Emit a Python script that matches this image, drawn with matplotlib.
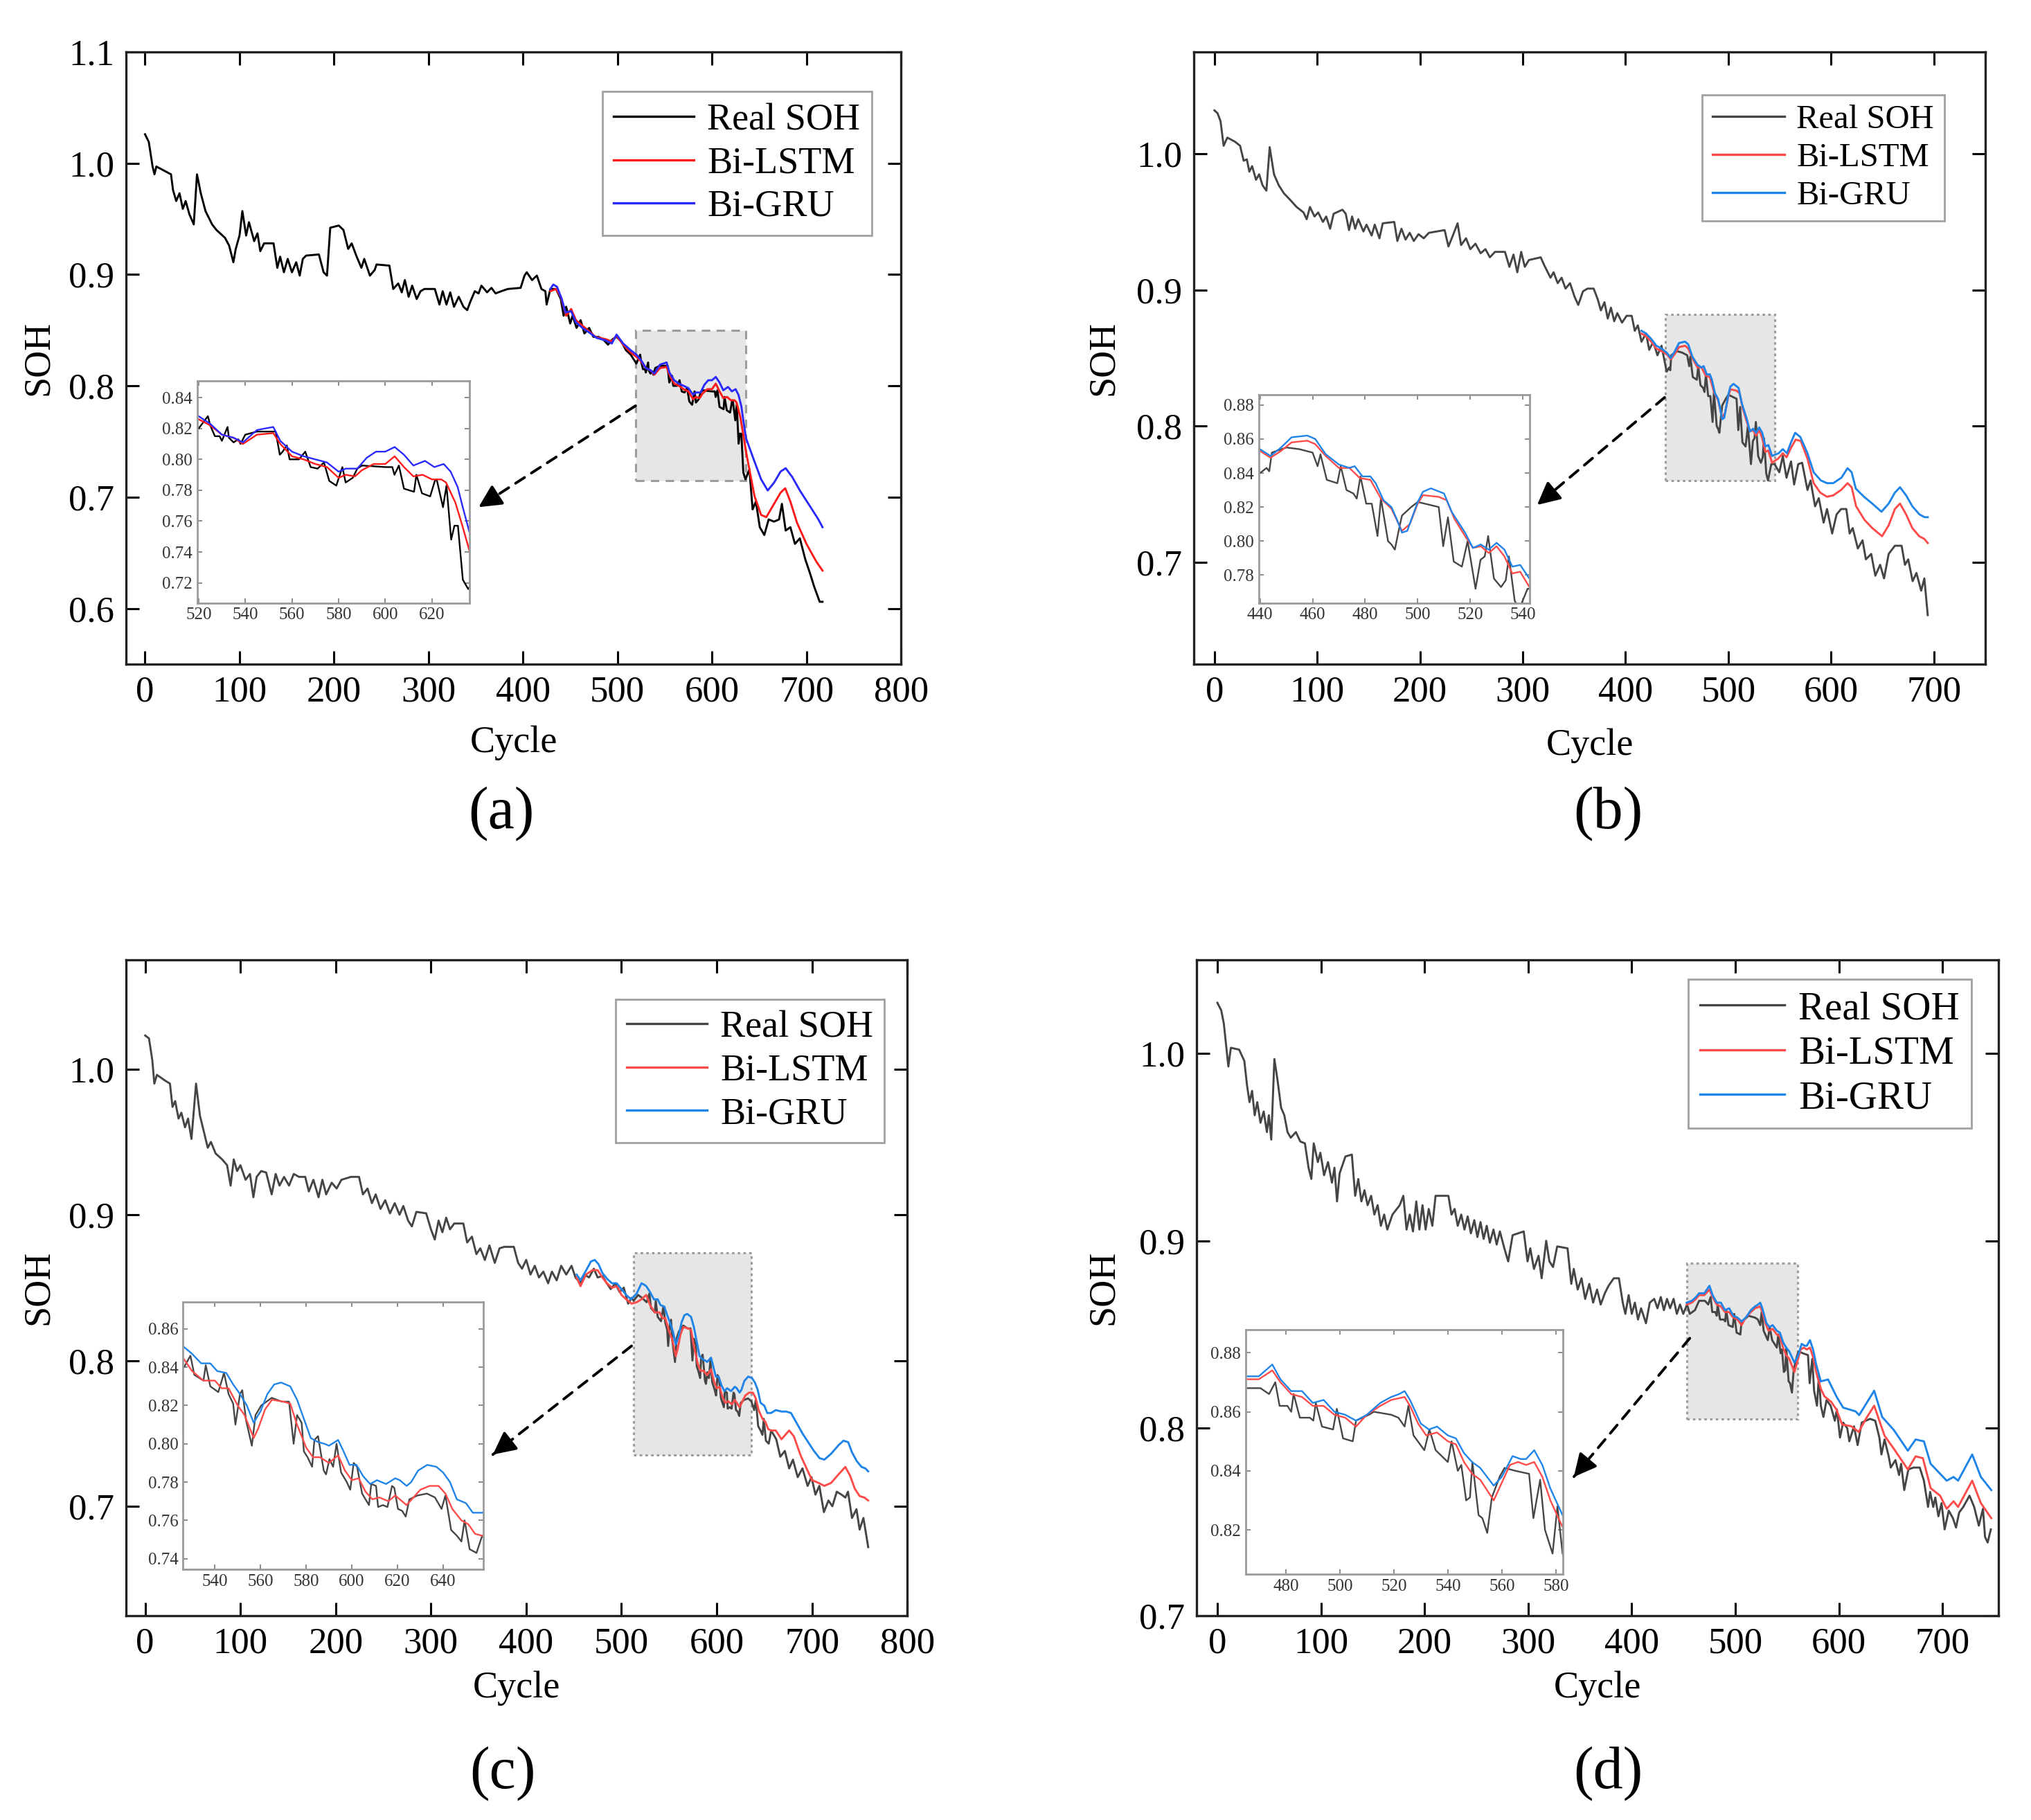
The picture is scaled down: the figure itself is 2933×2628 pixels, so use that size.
import matplotlib
matplotlib.use('Agg')
import matplotlib.pyplot as plt
from matplotlib.patches import Rectangle

plt.rcParams['font.family'] = ['Liberation Serif', 'DejaVu Serif']

# ---------------- panel (a) ----------------
a_real_x = [0, 4, 8, 10, 12, 23, 27.5, 29.6, 33, 36.5,
            40, 43, 47, 51.6, 55, 59, 64, 71, 75.6, 84.6,
            89, 93.5, 96, 100, 103, 107, 110, 115.5, 119, 122,
            126, 136, 140, 143, 147, 151, 155.5, 160, 163.7, 167,
            170.5, 184, 189, 192.6, 196, 205, 210, 215, 218.7, 224,
            229, 232, 238, 243, 245, 258.6, 262.7, 268, 271.7, 275,
            279, 282.7, 287.5, 291.6, 295.7, 306.7, 311.6, 315, 319, 323,
            327, 332, 337, 341, 344, 349, 353, 356, 362, 366.6,
            371, 377, 384, 397.5, 401.6, 404, 409.6, 414.7, 419.5, 423.7,
            425, 429, 435, 440, 443, 445.7, 450, 452.5, 456.7, 461,
            465, 470, 474.5, 480, 485.6, 490, 495, 499, 504, 509,
            514, 520, 524, 525, 527, 529, 530, 532.4, 533, 535,
            537, 538, 540, 545, 553, 554.8, 556, 557.8, 559, 563,
            565.7, 568, 571, 573.7, 576, 579, 581.6, 583, 586, 588,
            590, 600, 603, 603.9, 605.8, 608, 612.3, 613.3, 615.7, 619.2,
            621.2, 622, 624.7, 626.2, 628.2, 629.6, 631.1, 633.2, 635.5, 639.6,
            643, 646.5, 650.6, 655.4, 660, 665.7, 671, 674, 678, 683,
            687.8, 693, 698.8, 703.6, 708, 714, 717]
a_real_y = [1.026, 1.019, 0.997, 0.990, 0.997, 0.992, 0.990, 0.976, 0.966, 0.973,
            0.959, 0.966, 0.954, 0.945, 0.990, 0.973, 0.957, 0.945, 0.940, 0.933,
            0.926, 0.911, 0.923, 0.935, 0.957, 0.935, 0.947, 0.930, 0.937, 0.921,
            0.928, 0.928, 0.906, 0.916, 0.902, 0.914, 0.902, 0.911, 0.899, 0.914,
            0.917, 0.918, 0.902, 0.899, 0.942, 0.944, 0.940, 0.923, 0.928, 0.916,
            0.906, 0.914, 0.899, 0.904, 0.909, 0.908, 0.887, 0.892, 0.884, 0.895,
            0.880, 0.890, 0.878, 0.885, 0.887, 0.887, 0.873, 0.885, 0.873, 0.884,
            0.871, 0.880, 0.871, 0.868, 0.875, 0.885, 0.883, 0.890, 0.884, 0.888,
            0.883, 0.885, 0.887, 0.888, 0.899, 0.902, 0.895, 0.899, 0.887, 0.885,
            0.873, 0.887, 0.887, 0.878, 0.863, 0.871, 0.856, 0.863, 0.852, 0.859,
            0.847, 0.852, 0.844, 0.844, 0.841, 0.837, 0.842, 0.844, 0.840, 0.832,
            0.828, 0.820, 0.828, 0.822, 0.815, 0.815, 0.812, 0.821, 0.814, 0.811,
            0.813, 0.810, 0.816, 0.818, 0.818, 0.803, 0.805, 0.809, 0.800, 0.800,
            0.805, 0.795, 0.794, 0.798, 0.786, 0.783, 0.795, 0.785, 0.788, 0.794,
            0.796, 0.795, 0.795, 0.790, 0.796, 0.781, 0.779, 0.790, 0.778, 0.776,
            0.786, 0.787, 0.769, 0.783, 0.748, 0.757, 0.757, 0.722, 0.716, 0.725,
            0.689, 0.696, 0.673, 0.666, 0.680, 0.678, 0.680, 0.694, 0.670, 0.673,
            0.658, 0.663, 0.644, 0.632, 0.620, 0.606, 0.606]
a_lstm_x = [429, 435, 440, 445.7, 451, 456, 463, 470, 476.6, 487,
            494, 499, 506, 514, 520, 525, 530, 535, 539, 545,
            552, 555, 560, 565, 570, 575, 580, 583, 587, 590,
            595, 600, 604, 608, 612, 616, 620, 624, 626, 630,
            633, 636, 645, 652, 657.5, 665.7, 672.6, 677.5, 683, 690,
            700, 710.5, 717]
a_lstm_y = [0.885, 0.887, 0.880, 0.863, 0.869, 0.859, 0.854, 0.849, 0.844, 0.842,
            0.840, 0.845, 0.837, 0.830, 0.826, 0.822, 0.816, 0.814, 0.810, 0.816,
            0.817, 0.810, 0.802, 0.800, 0.797, 0.795, 0.788, 0.790, 0.789, 0.793,
            0.797, 0.797, 0.802, 0.795, 0.789, 0.790, 0.787, 0.787, 0.785, 0.772,
            0.757, 0.741, 0.701, 0.684, 0.682, 0.694, 0.704, 0.708, 0.696, 0.677,
            0.658, 0.642, 0.634]
a_gru_x = [429, 432, 436, 441, 445, 451, 456, 463, 470, 478,
           487, 494, 499, 506, 514, 520, 525, 530, 535, 539,
           545, 552, 555, 560, 565, 570, 575, 580, 583, 588,
           592, 596, 600, 604, 608, 612, 617, 621, 625, 628,
           631, 633, 636, 643.7, 652, 659, 665.7, 672.6, 678, 685,
           693, 703.6, 712.6, 717]
a_gru_y = [0.887, 0.891, 0.889, 0.878, 0.866, 0.867, 0.857, 0.852, 0.848, 0.843,
           0.841, 0.838, 0.846, 0.838, 0.832, 0.828, 0.823, 0.816, 0.814, 0.811,
           0.819, 0.821, 0.812, 0.805, 0.802, 0.800, 0.798, 0.792, 0.794, 0.794,
           0.801, 0.805, 0.805, 0.808, 0.803, 0.796, 0.799, 0.795, 0.797, 0.792,
           0.782, 0.770, 0.753, 0.735, 0.716, 0.706, 0.713, 0.723, 0.726, 0.718,
           0.706, 0.692, 0.680, 0.673]

# ---------------- panel (b) ----------------
b_real_x = [0, 3, 6, 9, 12.6, 20, 25, 28.5, 31.6, 34,
            36.7, 40.5, 43.6, 46.8, 50.6, 53.8, 58, 62.6, 67.7, 74,
            80, 86.7, 89.8, 93, 97.4, 101, 105.6, 108.8, 112.6, 116,
            124.6, 127.8, 131, 134, 137, 140, 145, 148, 153, 156,
            160.6, 163.8, 175, 178, 182, 186, 190, 194, 198.6, 203.7,
            208.7, 224, 227.7, 232, 236.6, 240, 244.8, 249, 254, 259,
            263.7, 268, 273, 282.7, 287, 291, 294.7, 298.5, 302, 306,
            317.5, 321, 327, 330, 334, 337.8, 341.6, 346, 350.4, 354,
            358.6, 363, 369, 373, 376, 379.5, 382.7, 385.8, 389, 392,
            396.6, 401, 406, 409, 412, 415.5, 420, 423, 427, 431,
            435, 440, 442.5, 443.5, 444.5, 450, 455, 460, 461.9, 463,
            465.4, 469.4, 470.7, 472.9, 475.5, 476.8, 478.2, 480.4, 482.5, 484.7,
            486, 488.7, 490, 491.3, 492.6, 494, 497.5, 500, 508, 509.7,
            511.5, 513.7, 516.8, 519, 522, 523.9, 525.5, 526.8, 529, 531.7,
            533.5, 534.7, 536.9, 538.6, 541.8, 545, 549.6, 553, 556.6, 561,
            564, 568, 571.8, 577, 580, 584.4, 588, 592.7, 596, 601,
            605.3, 609.7, 614.8, 618, 621, 626, 630.6, 633.8, 639, 643,
            647.7, 651.5, 656, 662, 668.6, 671.8, 675, 679.3, 683, 687.6,
            690.7, 694]
b_real_y = [1.032, 1.030, 1.024, 1.006, 1.012, 1.009, 1.006, 0.995, 0.996, 0.987,
            0.991, 0.981, 0.985, 0.977, 0.973, 1.005, 0.985, 0.977, 0.971, 0.966,
            0.961, 0.957, 0.952, 0.961, 0.954, 0.957, 0.950, 0.954, 0.945, 0.956,
            0.959, 0.956, 0.944, 0.954, 0.945, 0.952, 0.943, 0.948, 0.940, 0.948,
            0.938, 0.949, 0.950, 0.936, 0.945, 0.937, 0.942, 0.936, 0.941, 0.938,
            0.942, 0.944, 0.932, 0.940, 0.949, 0.933, 0.938, 0.930, 0.934, 0.927,
            0.930, 0.924, 0.928, 0.928, 0.917, 0.926, 0.913, 0.928, 0.917, 0.922,
            0.924, 0.918, 0.909, 0.913, 0.905, 0.909, 0.901, 0.905, 0.895, 0.889,
            0.899, 0.901, 0.901, 0.893, 0.885, 0.891, 0.879, 0.887, 0.877, 0.883,
            0.876, 0.881, 0.881, 0.870, 0.874, 0.862, 0.868, 0.856, 0.862, 0.852,
            0.859, 0.840, 0.843, 0.841, 0.852, 0.855, 0.854, 0.852, 0.844, 0.851,
            0.836, 0.834, 0.844, 0.830, 0.828, 0.825, 0.838, 0.822, 0.822, 0.803,
            0.825, 0.800, 0.798, 0.795, 0.805, 0.815, 0.820, 0.823, 0.820, 0.797,
            0.814, 0.788, 0.785, 0.800, 0.772, 0.789, 0.791, 0.803, 0.778, 0.773,
            0.777, 0.791, 0.765, 0.760, 0.772, 0.772, 0.766, 0.778, 0.762, 0.774,
            0.757, 0.772, 0.773, 0.753, 0.760, 0.741, 0.747, 0.729, 0.739, 0.721,
            0.735, 0.739, 0.739, 0.721, 0.725, 0.710, 0.716, 0.702, 0.706, 0.690,
            0.698, 0.688, 0.706, 0.712, 0.712, 0.698, 0.702, 0.686, 0.692, 0.679,
            0.688, 0.661]
b_lstm_x = [415.5, 420, 425, 430, 435, 440, 444, 448, 452, 458,
            461, 465, 470, 474, 478, 482, 486, 490, 494, 497,
            500, 502, 508, 511, 514, 518, 521, 524, 527, 530,
            533, 536, 539, 542.5, 548.4, 553, 556.6, 561, 565.5, 570.5,
            577, 583, 589.5, 596, 602, 609.7, 616, 620, 624.3, 632.5,
            640, 649.6, 656, 662, 667, 673, 679, 685.7, 690.7, 694]
b_lstm_y = [0.868, 0.866, 0.862, 0.857, 0.855, 0.853, 0.849, 0.853, 0.858, 0.859,
            0.857, 0.850, 0.843, 0.843, 0.837, 0.836, 0.825, 0.819, 0.806, 0.810,
            0.822, 0.827, 0.826, 0.824, 0.813, 0.803, 0.796, 0.797, 0.793, 0.797,
            0.791, 0.781, 0.782, 0.773, 0.776, 0.780, 0.777, 0.784, 0.790, 0.789,
            0.776, 0.758, 0.751, 0.748, 0.749, 0.753, 0.758, 0.755, 0.741, 0.731,
            0.725, 0.719, 0.727, 0.739, 0.743, 0.735, 0.725, 0.719, 0.717, 0.714]
b_gru_x = [415.5, 420, 425, 430, 435, 440, 444, 448, 452, 458,
           461, 465, 470, 474, 476, 479, 482, 484, 487, 490,
           492, 494, 496, 500, 502, 505, 510, 513, 518, 521,
           524, 527, 530, 533, 536, 539, 542.5, 549, 553, 557,
           561, 565, 570, 577, 583, 590, 596, 602, 610, 616,
           620, 624, 632, 640, 649, 656, 662, 667, 673, 679,
           686, 691, 694]
b_gru_y = [0.870, 0.868, 0.864, 0.859, 0.857, 0.854, 0.850, 0.855, 0.861, 0.862,
           0.860, 0.851, 0.845, 0.843, 0.844, 0.838, 0.838, 0.834, 0.824, 0.820,
           0.813, 0.805, 0.806, 0.823, 0.829, 0.831, 0.828, 0.817, 0.805, 0.796,
           0.798, 0.795, 0.799, 0.795, 0.785, 0.786, 0.778, 0.780, 0.783, 0.780,
           0.788, 0.795, 0.792, 0.780, 0.766, 0.760, 0.758, 0.758, 0.762, 0.769,
           0.766, 0.754, 0.748, 0.743, 0.737, 0.743, 0.751, 0.755, 0.749, 0.741,
           0.735, 0.733, 0.733]

# ---------------- panel (c) ----------------
c_real_x = [0, 4, 7.5, 9.6, 12.3, 21, 26, 28.7, 31.5, 35,
            38, 41.8, 45, 48.6, 53.4, 57.5, 62, 65.7, 69, 74,
            80.8, 86, 89.7, 93, 96.5, 100, 105.4, 110, 113.6, 117,
            121.8, 127, 132.8, 137, 141, 145.8, 151, 156, 161.5, 168,
            171.8, 176.6, 182, 186, 190, 195.8, 201, 206, 216, 224.5,
            228.6, 233.4, 238, 242, 247, 252, 257, 262, 267, 271,
            276, 280, 284.7, 295, 300, 304, 308, 312, 316, 320,
            324.4, 334, 338, 343, 347.7, 351.8, 356.6, 361.4, 367, 372,
            377, 387, 391.5, 395.6, 400, 404.5, 409, 413.4, 418, 423,
            427, 432, 436.7, 442, 447.6, 451.7, 457, 461, 466, 471,
            475, 480, 484.6, 488.7, 493.5, 498, 502.4, 507, 510.6, 512.7,
            517.5, 521.5, 526.5, 529.3, 531, 535, 536, 538, 541.5, 544,
            546, 548, 549, 551, 552, 553.7, 556.2, 557.8, 560.3, 564.9,
            569.4, 572.5, 574.5, 576, 578, 579, 580.6, 582.6, 583.6, 585.2,
            587.7, 588.7, 590.2, 591.8, 593.3, 595.3, 597.8, 599.3, 600.8, 602.3,
            604.5, 607.5, 608.5, 610.6, 611.5, 613.6, 615.6, 617.6, 618.6, 620.2,
            622, 623.6, 625.2, 628.7, 632.9, 636.4, 639.3, 641, 643.5, 646,
            648, 649.4, 651.6, 654.6, 657.1, 662.5, 666.7, 671.5, 676, 680,
            685, 690, 695.4, 699.5, 703.6, 707.7, 712.5, 717.3, 721.4, 726,
            731, 735, 737.8, 742, 746.7, 750, 754, 759]
c_real_y = [1.023, 1.021, 1.006, 0.990, 0.996, 0.992, 0.990, 0.974, 0.978, 0.966,
            0.970, 0.960, 0.966, 0.952, 0.990, 0.968, 0.956, 0.946, 0.950, 0.942,
            0.938, 0.934, 0.920, 0.938, 0.930, 0.934, 0.924, 0.928, 0.912, 0.926,
            0.930, 0.929, 0.914, 0.928, 0.920, 0.926, 0.920, 0.928, 0.926, 0.926,
            0.916, 0.924, 0.912, 0.924, 0.914, 0.922, 0.918, 0.924, 0.926, 0.926,
            0.914, 0.918, 0.908, 0.914, 0.904, 0.910, 0.901, 0.908, 0.900, 0.906,
            0.896, 0.892, 0.902, 0.901, 0.890, 0.883, 0.896, 0.888, 0.898, 0.890,
            0.894, 0.894, 0.881, 0.885, 0.873, 0.877, 0.869, 0.879, 0.867, 0.877,
            0.878, 0.878, 0.867, 0.863, 0.869, 0.859, 0.865, 0.857, 0.861, 0.853,
            0.861, 0.855, 0.865, 0.859, 0.865, 0.857, 0.853, 0.859, 0.857, 0.863,
            0.857, 0.858, 0.853, 0.849, 0.853, 0.847, 0.850, 0.839, 0.843, 0.841,
            0.845, 0.843, 0.840, 0.846, 0.836, 0.833, 0.841, 0.830, 0.827, 0.837,
            0.826, 0.821, 0.810, 0.826, 0.828, 0.812, 0.799, 0.815, 0.820, 0.824,
            0.822, 0.822, 0.800, 0.815, 0.811, 0.796, 0.793, 0.788, 0.802, 0.804,
            0.786, 0.784, 0.792, 0.788, 0.800, 0.785, 0.780, 0.776, 0.790, 0.788,
            0.774, 0.768, 0.779, 0.778, 0.767, 0.768, 0.767, 0.778, 0.777, 0.766,
            0.765, 0.762, 0.771, 0.773, 0.774, 0.772, 0.766, 0.773, 0.755, 0.752,
            0.749, 0.760, 0.745, 0.743, 0.752, 0.746, 0.734, 0.738, 0.726, 0.732,
            0.720, 0.726, 0.714, 0.720, 0.708, 0.714, 0.696, 0.704, 0.700, 0.710,
            0.708, 0.706, 0.710, 0.692, 0.698, 0.684, 0.692, 0.672]
c_lstm_x = [453, 457, 462.7, 469.5, 475, 480, 484.6, 490, 495.6, 500,
            505, 510.6, 516, 521, 526, 530, 535, 540, 543, 546,
            550, 553, 557, 559, 562, 565, 570, 573, 576, 580,
            583, 586, 590, 594, 597, 600, 603, 606, 609, 612,
            616, 619, 621, 624, 627, 630, 634, 638, 641, 644,
            648, 651, 654, 657, 662, 668, 676, 681, 688, 695,
            700, 707, 713, 720, 728, 735, 740, 745, 750, 755,
            759]
c_lstm_y = [0.857, 0.851, 0.859, 0.862, 0.862, 0.857, 0.853, 0.850, 0.851, 0.845,
            0.842, 0.839, 0.840, 0.842, 0.845, 0.838, 0.833, 0.833, 0.829, 0.829,
            0.820, 0.815, 0.803, 0.808, 0.818, 0.823, 0.822, 0.821, 0.810, 0.798,
            0.793, 0.793, 0.790, 0.794, 0.786, 0.781, 0.782, 0.775, 0.771, 0.772,
            0.770, 0.773, 0.771, 0.768, 0.772, 0.776, 0.778, 0.778, 0.774, 0.766,
            0.760, 0.758, 0.753, 0.752, 0.752, 0.746, 0.752, 0.748, 0.735, 0.725,
            0.718, 0.716, 0.714, 0.716, 0.722, 0.727, 0.721, 0.712, 0.707, 0.706,
            0.704]
c_gru_x = [453, 457, 463, 468, 472, 476, 480, 485, 490, 495,
           500, 505, 510, 516, 521, 524, 526, 530, 534, 538,
           541, 545, 548, 551, 554, 557, 560, 563, 566, 569,
           573, 576, 579, 582, 585, 588, 590, 594, 596, 599,
           602, 605, 608, 611, 615, 619, 621, 624, 626, 629,
           633, 637, 640, 643, 646, 650, 653, 657, 662, 668,
           673, 678, 684, 690, 696, 702, 708, 713, 720, 728,
           733, 738, 742, 747, 752, 756, 759]
c_gru_y = [0.859, 0.855, 0.862, 0.868, 0.869, 0.866, 0.860, 0.856, 0.853, 0.853,
           0.849, 0.845, 0.842, 0.846, 0.853, 0.852, 0.851, 0.847, 0.842, 0.842,
           0.838, 0.837, 0.831, 0.826, 0.820, 0.811, 0.817, 0.826, 0.831, 0.832,
           0.830, 0.823, 0.813, 0.803, 0.801, 0.800, 0.799, 0.802, 0.797, 0.789,
           0.789, 0.783, 0.779, 0.781, 0.779, 0.782, 0.781, 0.778, 0.780, 0.786,
           0.789, 0.788, 0.785, 0.780, 0.771, 0.769, 0.764, 0.764, 0.766, 0.765,
           0.765, 0.764, 0.757, 0.750, 0.744, 0.738, 0.733, 0.732, 0.736, 0.742,
           0.745, 0.744, 0.737, 0.731, 0.727, 0.726, 0.724]

# ---------------- panel (d) ----------------
d_real_x = [0, 3.7, 6.2, 8.7, 10.6, 13, 21, 26, 28.6, 31,
            33.5, 36, 38.5, 41.6, 44.7, 47.8, 49.7, 52, 55, 58,
            61.5, 64.6, 67.7, 70.8, 75.8, 80, 84.5, 88, 90.7, 93,
            97, 99.4, 103, 106.8, 110.6, 113, 115.5, 118, 123.6, 129.8,
            133, 136, 139, 142, 145, 148.4, 151.5, 154.7, 157.8, 161,
            164, 169, 176, 179.5, 182.6, 185.7, 188.8, 192, 195, 198,
            201, 204, 207.5, 210.6, 223, 226, 229, 232, 235.4, 238.5,
            241.6, 244.7, 248, 251, 254, 257, 260, 263, 266.5, 269.6,
            272.7, 277, 280.7, 285, 295.7, 299.4, 302, 305.6, 310, 313,
            317.4, 320.5, 324, 328, 338, 341.6, 344, 347.8, 351.5, 355,
            359, 362.7, 366.5, 370, 374, 377.6, 382.6, 387.6, 391.3, 393.8,
            397, 400, 403, 406, 409, 413.7, 417.4, 421.7, 424.8, 428,
            431, 434, 437, 440.4, 443.5, 446.6, 449.7, 453.4, 456, 461,
            465, 470.6, 473.8, 476.1, 477.7, 480.6, 482, 482.9, 485.2, 488.9,
            490.2, 491.1, 493.4, 497.5, 498.9, 501.2, 504.8, 506, 510.8, 512.6,
            519, 521.7, 524, 525.4, 527.3, 531.3, 533.2, 535.5, 540, 541.4,
            543.7, 545, 546.8, 548.2, 549.1, 551.4, 552.8, 554.6, 556.3, 559.2,
            561, 565.1, 570.1, 571.7, 574.2, 576, 578.8, 580.6, 582.5, 585,
            588, 592, 596, 598, 601, 604, 608, 610, 614.5, 618,
            622, 626, 630, 635, 639, 641, 644, 648, 650, 654.5,
            658, 660, 663, 667, 672, 678, 682, 686, 688, 691,
            693, 696, 699, 702, 706, 710, 713, 716, 720, 726,
            730.5, 735, 739, 741, 743.5, 746.6]
d_real_y = [1.027, 1.023, 1.016, 1.003, 0.993, 1.003, 1.002, 0.996, 0.983, 0.974,
            0.980, 0.967, 0.974, 0.963, 0.969, 0.958, 0.967, 0.954, 0.997, 0.986,
            0.971, 0.967, 0.958, 0.955, 0.958, 0.953, 0.952, 0.939, 0.933, 0.952,
            0.942, 0.947, 0.935, 0.942, 0.931, 0.939, 0.921, 0.936, 0.945, 0.946,
            0.924, 0.933, 0.921, 0.927, 0.919, 0.924, 0.914, 0.919, 0.908, 0.914,
            0.906, 0.914, 0.919, 0.924, 0.906, 0.914, 0.905, 0.921, 0.906, 0.919,
            0.906, 0.917, 0.908, 0.924, 0.924, 0.914, 0.917, 0.908, 0.914, 0.906,
            0.913, 0.904, 0.911, 0.902, 0.910, 0.901, 0.908, 0.899, 0.906, 0.898,
            0.905, 0.896, 0.889, 0.903, 0.905, 0.889, 0.896, 0.885, 0.892, 0.880,
            0.900, 0.889, 0.886, 0.897, 0.896, 0.877, 0.885, 0.874, 0.880, 0.869,
            0.877, 0.867, 0.874, 0.866, 0.872, 0.876, 0.880, 0.880, 0.867, 0.861,
            0.871, 0.861, 0.867, 0.858, 0.864, 0.856, 0.867, 0.869, 0.864, 0.870,
            0.863, 0.869, 0.864, 0.869, 0.861, 0.866, 0.861, 0.866, 0.861, 0.863,
            0.868, 0.868, 0.866, 0.870, 0.862, 0.862, 0.860, 0.866, 0.858, 0.858,
            0.857, 0.863, 0.855, 0.854, 0.861, 0.851, 0.850, 0.857, 0.859, 0.860,
            0.859, 0.858, 0.855, 0.862, 0.852, 0.847, 0.854, 0.847, 0.843, 0.850,
            0.840, 0.842, 0.830, 0.831, 0.843, 0.825, 0.824, 0.819, 0.831, 0.838,
            0.841, 0.840, 0.839, 0.824, 0.837, 0.820, 0.812, 0.828, 0.812, 0.806,
            0.815, 0.812, 0.804, 0.810, 0.795, 0.803, 0.800, 0.793, 0.801, 0.791,
            0.803, 0.804, 0.805, 0.804, 0.795, 0.786, 0.794, 0.785, 0.779, 0.783,
            0.775, 0.781, 0.767, 0.778, 0.779, 0.779, 0.772, 0.758, 0.766, 0.758,
            0.763, 0.753, 0.760, 0.746, 0.756, 0.752, 0.747, 0.755, 0.758, 0.764,
            0.758, 0.748, 0.757, 0.742, 0.739, 0.746]
d_lstm_x = [453, 458, 462, 465, 470, 475, 478, 482, 486, 490,
            494, 498, 502, 506, 510, 515, 519, 524, 526, 529,
            532, 536, 540, 543, 546, 549, 552, 557, 559, 563,
            566, 569, 572, 575, 578, 582.5, 586, 592.6, 597.5, 603,
            612, 619, 626, 634, 644, 653, 666.5, 674, 681, 688.5,
            697.6, 704, 710.6, 715, 728.6, 737, 747]
d_lstm_y = [0.866, 0.867, 0.869, 0.871, 0.871, 0.874, 0.870, 0.866, 0.865, 0.862,
            0.862, 0.859, 0.858, 0.855, 0.859, 0.862, 0.864, 0.865, 0.862, 0.856,
            0.852, 0.853, 0.850, 0.849, 0.843, 0.839, 0.837, 0.830, 0.834, 0.842,
            0.843, 0.842, 0.843, 0.838, 0.830, 0.821, 0.817, 0.814, 0.810, 0.802,
            0.801, 0.798, 0.805, 0.812, 0.796, 0.789, 0.778, 0.785, 0.784, 0.768,
            0.764, 0.757, 0.761, 0.758, 0.772, 0.760, 0.752]
d_gru_x = [453, 458, 462, 465, 470, 475, 478, 482, 486, 490,
           494, 498, 502, 506, 510, 515, 519, 522, 524, 526,
           530, 533, 536, 540, 543, 546, 549, 552, 557, 560,
           564, 567, 569, 572, 575, 578, 582.5, 589.5, 597.5, 604,
           616, 619.5, 634, 641.7, 653, 666.5, 674, 682, 688.5, 704,
           710.6, 715, 728.6, 737, 747]
d_gru_y = [0.867, 0.868, 0.870, 0.872, 0.872, 0.876, 0.871, 0.867, 0.867, 0.863,
           0.864, 0.860, 0.859, 0.857, 0.859, 0.863, 0.865, 0.866, 0.867, 0.864,
           0.856, 0.854, 0.855, 0.852, 0.851, 0.846, 0.843, 0.841, 0.835, 0.838,
           0.845, 0.844, 0.844, 0.847, 0.842, 0.834, 0.825, 0.826, 0.817, 0.811,
           0.809, 0.807, 0.820, 0.806, 0.799, 0.788, 0.794, 0.793, 0.781, 0.772,
           0.774, 0.772, 0.786, 0.774, 0.767]

labels = ['Real SOH', 'Bi-LSTM', 'Bi-GRU']
colors_a = ['#000000', '#ff1a1a', '#2a2aff']
colors_bcd = ['#454545', '#ff4a4a', '#1f84e8']

# layout of each panel (positions, limits, zoom box, arrow, inset)
panels = [
    dict(tag='(a)', pos=[0.0621, 0.6351, 0.3815, 0.3364], tagxy=(0.2468, 0.5529),
         data=(a_real_x, a_real_y, a_lstm_x, a_lstm_y, a_gru_x, a_gru_y), colors=colors_a,
         xlim=(-20, 800), ylim=(0.55, 1.1), xticks=range(0, 801, 100),
         yticks=[0.6, 0.7, 0.8, 0.9, 1.0, 1.1],
         box=(519, 0.715, 636, 0.850), box_ls=(0, (4, 3)),
         arrow=((519, 0.782), (353, 0.691)),
         leg=(0.962, 0.935), leg_size=39, lab_x=-0.113, lab_y=-0.129,
         ins=[0.092, 0.100, 0.351, 0.363], ins_xlim=(519.5, 636), ins_ylim=(0.707, 0.851),
         ins_xticks=range(520, 621, 20), ins_yticks=[0.72, 0.74, 0.76, 0.78, 0.80, 0.82, 0.84]),
    dict(tag='(b)', pos=[0.5878, 0.6351, 0.3897, 0.3364], tagxy=(0.7917, 0.5529),
         data=(b_real_x, b_real_y, b_lstm_x, b_lstm_y, b_gru_x, b_gru_y), colors=colors_bcd,
         xlim=(-20, 750), ylim=(0.625, 1.075), xticks=range(0, 701, 100),
         yticks=[0.7, 0.8, 0.9, 1.0],
         box=(439, 0.760, 545, 0.882), box_ls=(0, (1.2, 1.5)),
         arrow=((438, 0.821), (314, 0.742)),
         leg=(0.948, 0.930), leg_size=35, lab_x=-0.114, lab_y=-0.133,
         ins=[0.082, 0.100, 0.342, 0.340], ins_xlim=(439.5, 542.5), ins_ylim=(0.7637, 0.886),
         ins_xticks=range(440, 541, 20), ins_yticks=[0.78, 0.80, 0.82, 0.84, 0.86, 0.88]),
    dict(tag='(c)', pos=[0.0621, 0.1123, 0.3846, 0.3604], tagxy=(0.2475, 0.0255),
         data=(c_real_x, c_real_y, c_lstm_x, c_lstm_y, c_gru_x, c_gru_y), colors=colors_bcd,
         xlim=(-20, 800), ylim=(0.625, 1.075), xticks=range(0, 801, 100),
         yticks=[0.7, 0.8, 0.9, 1.0],
         box=(513, 0.735, 636, 0.874), box_ls=(0, (1.2, 1.5)),
         arrow=((510.6, 0.810), (365, 0.7355)),
         leg=(0.971, 0.940), leg_size=39, lab_x=-0.112, lab_y=-0.111,
         ins=[0.073, 0.071, 0.384, 0.407], ins_xlim=(526.1, 657.5), ins_ylim=(0.7346, 0.874),
         ins_xticks=range(540, 641, 20), ins_yticks=[0.74, 0.76, 0.78, 0.80, 0.82, 0.84, 0.86]),
    dict(tag='(d)', pos=[0.5892, 0.1123, 0.3948, 0.3604], tagxy=(0.7917, 0.0255),
         data=(d_real_x, d_real_y, d_lstm_x, d_lstm_y, d_gru_x, d_gru_y), colors=colors_bcd,
         xlim=(-20, 754), ylim=(0.7, 1.05), xticks=range(0, 701, 100),
         yticks=[0.7, 0.8, 0.9, 1.0],
         box=(453, 0.805, 560, 0.888), box_ls=(0, (1.2, 1.5)),
         arrow=((456, 0.848), (344, 0.774)),
         leg=(0.966, 0.970), leg_size=41, lab_x=-0.116, lab_y=-0.111,
         ins=[0.061, 0.063, 0.396, 0.373], ins_xlim=(465.1, 582.7), ins_ylim=(0.805, 0.8878),
         ins_xticks=range(480, 581, 20), ins_yticks=[0.82, 0.84, 0.86, 0.88]),
]


def draw_panel(fig, p):
    ax = fig.add_axes(p['pos'])
    rx, ry, lx, ly, gx, gy = p['data']
    c = p['colors']

    x0, y0, x1, y1 = p['box']
    ax.add_patch(Rectangle((x0, y0), x1 - x0, y1 - y0, facecolor='#e6e6e6',
                           edgecolor='#9c9c9c', lw=2.2, linestyle=p['box_ls'], zorder=1))

    ax.plot(rx, ry, color=c[0], lw=2.1, label=labels[0], zorder=3)
    ax.plot(lx, ly, color=c[1], lw=2.1, label=labels[1], zorder=4)
    ax.plot(gx, gy, color=c[2], lw=2.1, label=labels[2], zorder=5)

    ax.set_xlim(*p['xlim'])
    ax.set_ylim(*p['ylim'])
    ax.set_xticks(list(p['xticks']))
    ax.set_yticks(p['yticks'])
    ax.set_yticklabels(['%.1f' % v for v in p['yticks']])
    ax.tick_params(direction='in', top=True, right=True, length=14, width=2.2,
                   labelsize=38, pad=12)
    for sp in ax.spines.values():
        sp.set_linewidth(2.4)
        sp.set_color('#222222')

    ax.set_xlabel('Cycle', fontsize=39)
    ax.set_ylabel('SOH', fontsize=39)
    ax.xaxis.label.set_va('center')
    ax.yaxis.label.set_va('center')
    ax.xaxis.set_label_coords(0.5, p['lab_y'])
    ax.yaxis.set_label_coords(p['lab_x'], 0.5)

    leg = ax.legend(loc='upper right', bbox_to_anchor=p['leg'], fontsize=p['leg_size'],
                    frameon=True, fancybox=False, framealpha=1, edgecolor='#a0a0a0',
                    handlelength=2.15, handletextpad=0.35, labelspacing=0.22,
                    borderpad=0.3, borderaxespad=0)
    leg.get_frame().set_linewidth(2)
    for h in leg.get_lines():
        h.set_linewidth(2.4)

    # dashed pointer from the zoom box to the inset, solid head on the end
    tail, head = p['arrow']
    ax.annotate('', xy=head, xytext=tail,
                arrowprops=dict(arrowstyle='-', color='black', lw=2.8,
                                linestyle=(0, (4, 3)), shrinkA=0, shrinkB=0), zorder=6)
    near = (head[0] + 0.12 * (tail[0] - head[0]), head[1] + 0.12 * (tail[1] - head[1]))
    ax.annotate('', xy=head, xytext=near,
                arrowprops=dict(arrowstyle='-|>', color='black', lw=2.8,
                                mutation_scale=50, shrinkA=0, shrinkB=0), zorder=6)

    # zoomed inset
    ins = ax.inset_axes(p['ins'])
    ins.plot(rx, ry, color=c[0], lw=1.7)
    ins.plot(lx, ly, color=c[1], lw=1.7)
    ins.plot(gx, gy, color=c[2], lw=1.7)
    ins.set_xlim(*p['ins_xlim'])
    ins.set_ylim(*p['ins_ylim'])
    ins.set_xticks(list(p['ins_xticks']))
    ins.set_yticks(p['ins_yticks'])
    ins.set_yticklabels(['%.2f' % v for v in p['ins_yticks']])
    ins.tick_params(direction='in', top=True, right=True, length=5, width=1.2,
                    labelsize=18, pad=5, colors='#777777', labelcolor='#333333')
    for sp in ins.spines.values():
        sp.set_linewidth(2)
        sp.set_color('#9a9a9a')
    ins.set_facecolor('white')

    fig.text(p['tagxy'][0], p['tagxy'][1], p['tag'], fontsize=62,
             ha='center', va='center')
    return ax


fig = plt.figure(figsize=(29.33, 26.28), dpi=100)
for p in panels:
    draw_panel(fig, p)

fig.savefig('out.png', dpi=100, facecolor='white')
